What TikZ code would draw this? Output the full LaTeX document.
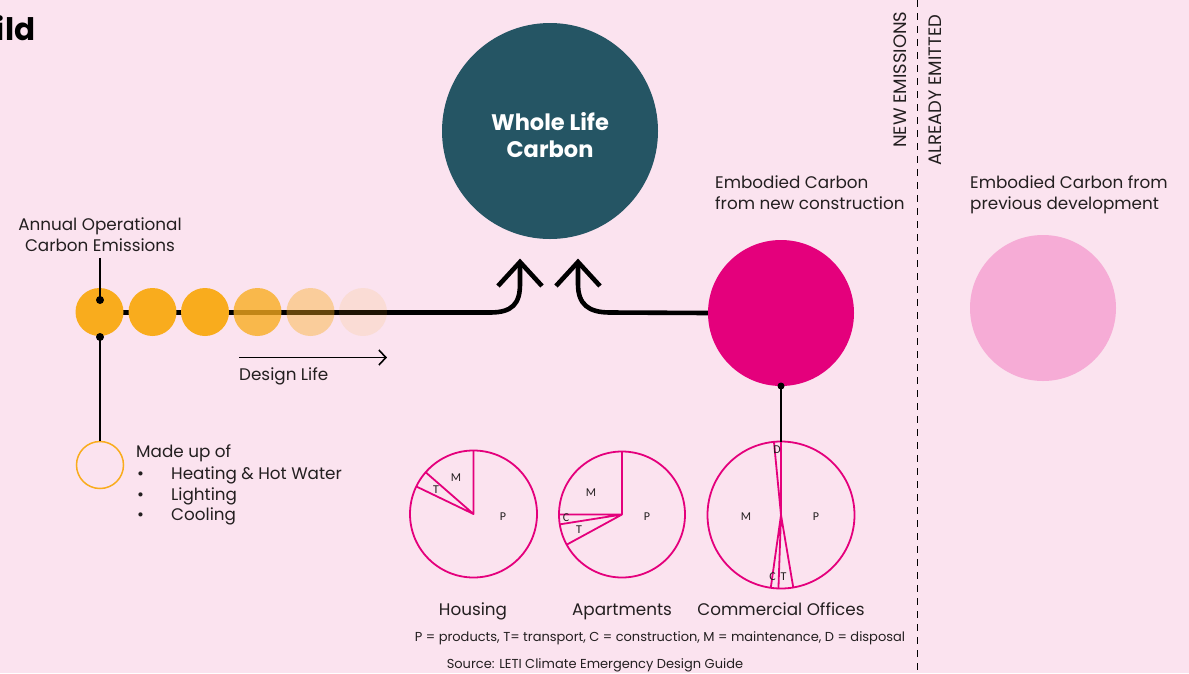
\documentclass[tikz,border=0pt]{standalone}
\usepackage{fontspec}
\setmainfont{Poppins}
\newfontfamily\piefont{Carlito}
\usetikzlibrary{arrows.meta,calc}
\definecolor{bg}{HTML}{FBE3EF}
\definecolor{teal}{HTML}{255564}
\definecolor{mag}{HTML}{E4007C}
\definecolor{lpink}{HTML}{F6ACD6}
\definecolor{orng}{HTML}{F9AC1D}
\definecolor{txt}{HTML}{231F20}
\tikzset{
  lbl/.style={font=\fontsize{16.8}{21}\selectfont, text=txt, inner sep=0pt},
  small/.style={font=\fontsize{13}{15}\selectfont, text=txt, inner sep=0pt},
  vert/.style={font=\fontsize{18}{20}\selectfont, text=txt, inner sep=0pt, rotate=90, anchor=base west},
  pielbl/.style={font=\piefont\fontsize{12}{14}\selectfont, text=txt, inner sep=0pt},
  pie/.style={draw=mag, line width=1.8pt},
  dotc/.style={circle, fill=orng, minimum size=48pt, inner sep=0pt},
  mainline/.style={line width=4.6pt, black},
  blackdot/.style={circle, fill=black, minimum size=8pt, inner sep=0pt},
}
\begin{document}
\begin{tikzpicture}[x=1pt,y=-1pt]
\useasboundingbox (0,0) rectangle (1189,673);
\fill[bg] (0,0) rectangle (1189,673);

% title fragment
\node[anchor=base east, font=\bfseries\fontsize{31}{36}\selectfont, inner sep=0pt] (title) at (35.5,40) {Build};

% separator
\draw[dashed, line width=1pt, dash pattern=on 7pt off 6pt] (917,0) coordinate (sepT) -- (917,673) coordinate (sepB);
\node[vert] (newem) at (906,148) {NEW EMISSIONS};
\node[vert] (already) at (941,166) {ALREADY EMITTED};

% whole life carbon
\node[circle, fill=teal, minimum size=216pt, inner sep=0pt] (wlc) at (550,131) {};
\node[font=\bfseries\fontsize{22.5}{27}\selectfont, text=white, align=center, inner sep=0pt] (wlct) at (550,135) {Whole Life\\Carbon};

% embodied
\node[circle, fill=mag, minimum size=146pt, inner sep=0pt] (emb) at (781,313) {};
\node[circle, fill=lpink, minimum size=146pt, inner sep=0pt] (prev) at (1043,308) {};
\node[lbl, align=left, anchor=base west] (embt) at (715,209.3) {Embodied Carbon\\from new construction};
\node[lbl, align=left, anchor=base west] (prevt) at (970,209.3) {Embodied Carbon from\\previous development};

% operational line
\coordinate (lineS) at (100,312.5);
\coordinate (tipL) at (520,262);
\coordinate (tipR) at (578,262);
\draw[mainline] (lineS) -- (490,312.5) .. controls (512,312.5) and (520,304) .. (520,284) -- (tipL);
\draw[mainline, miter limit=10] (498,286) -- (tipL) -- (542,286);
\draw[mainline] (emb.west) -- (610,312.5) .. controls (588,312.5) and (578,304) .. (578,284) -- (tipR);
\draw[mainline, miter limit=10] (556,286) -- (tipR) -- (600,286);

% orange circles
\node[dotc] (o1) at (99.5,312) {};
\node[dotc] (o2) at (152.5,312) {};
\node[dotc] (o3) at (205,312) {};
\node[dotc, fill opacity=0.78] (o4) at (257.5,312) {};
\node[dotc, fill opacity=0.4] (o5) at (310.5,312) {};
\node[dotc, fill opacity=0.12] (o6) at (363,312) {};

\node[lbl, align=center, anchor=base] (annual) at (100,251) {Annual Operational\\Carbon Emissions};
\node[blackdot] (d1) at (100,300) {};
\node[blackdot] (d2) at (100,337) {};
\draw[line width=2pt] (annual.south) ++(0,6.5) -- (d1.center);
\node[circle, draw=orng, line width=1.5pt, minimum size=47pt, inner sep=0pt] (open) at (100,465) {};
\draw[line width=2pt] (d2.center) -- (open.north);

% design life
\coordinate (dlS) at (239,357.5);
\coordinate (dlE) at (387,357.5);
\draw[line width=1.6pt, -{Straight Barb[length=7pt,width=15pt,line width=1.6pt]}] (dlS) -- (dlE);
\node[lbl, anchor=base west] (dlt) at (239,380.5) {Design Life};

% made up of
\node[lbl, anchor=base west] (made) at (136,457.7) {Made up of};
\node[lbl, anchor=base west] (b1) at (137,479) {•};
\node[lbl, anchor=base west] (b2) at (137,500) {•};
\node[lbl, anchor=base west] (b3) at (137,520.5) {•};
\node[lbl, anchor=base west] (h1) at (171,479) {Heating \& Hot Water};
\node[lbl, anchor=base west] (h2) at (171,500) {Lighting};
\node[lbl, anchor=base west] (h3) at (171,520.5) {Cooling};

% link embodied to commercial pie
\node[blackdot, minimum size=7pt] (d3) at (781,386) {};

% pies
\coordinate (H) at (473.5,514);
\coordinate (A) at (622,514.5);
\coordinate (C) at (781,515);
\draw[pie] (H) circle (63.5);
\draw[pie, line join=round] ($(H)+(-90:63.5)$) -- (H) -- ($(H)+(-138.9:63.5)$) (H) -- ($(H)+(-154.3:63.5)$);
\node[pielbl] (hm) at (456,478) {M};
\node[pielbl] (ht) at (436,490) {T};
\node[pielbl] (hp) at (503,517) {P};

\draw[pie] (A) circle (63);
\draw[pie, line join=round] ($(A)+(-90:63)$) -- (A) -- ($(A)+(-180:63)$) (A) -- ($(A)+(-189:63)$) (A) -- ($(A)+(-208.6:63)$);
\node[pielbl] (am) at (591,493) {M};
\node[pielbl] (ac) at (566,518) {C};
\node[pielbl] (at) at (579,530) {T};
\node[pielbl] (ap) at (647,517) {P};

\draw[pie] (C) circle (73.5);
\draw[pie, line join=round] ($(C)+(-90:73.5)$) -- (C) -- ($(C)+(-95.5:73.5)$) (C) -- ($(C)+(-262:73.5)$) (C) -- ($(C)+(-268:73.5)$) (C) -- ($(C)+(-279.6:73.5)$);
\node[pielbl] (cd) at (777,450) {D};
\node[pielbl] (cm) at (746,517) {M};
\node[pielbl] (cp) at (816,517) {P};
\node[pielbl] (cc) at (772.5,577) {C};
\node[pielbl] (ct) at (783.5,577) {T};
\draw[line width=2pt] (d3.center) -- ($(C)+(-90:73.5)$);

\node[lbl, anchor=base] (hous) at (473,615) {Housing};
\node[lbl, anchor=base] (apts) at (622,615) {Apartments};
\node[lbl, anchor=base] (comm) at (781,615) {Commercial Offices};

\node[small, anchor=base] (key) at (660,641) {P = products, T= transport, C = construction, M = maintenance, D = disposal};
\node[small, anchor=base] (src) at (595,668.5) {Source: LETI Climate Emergency Design Guide};
\end{tikzpicture}
\end{document}
